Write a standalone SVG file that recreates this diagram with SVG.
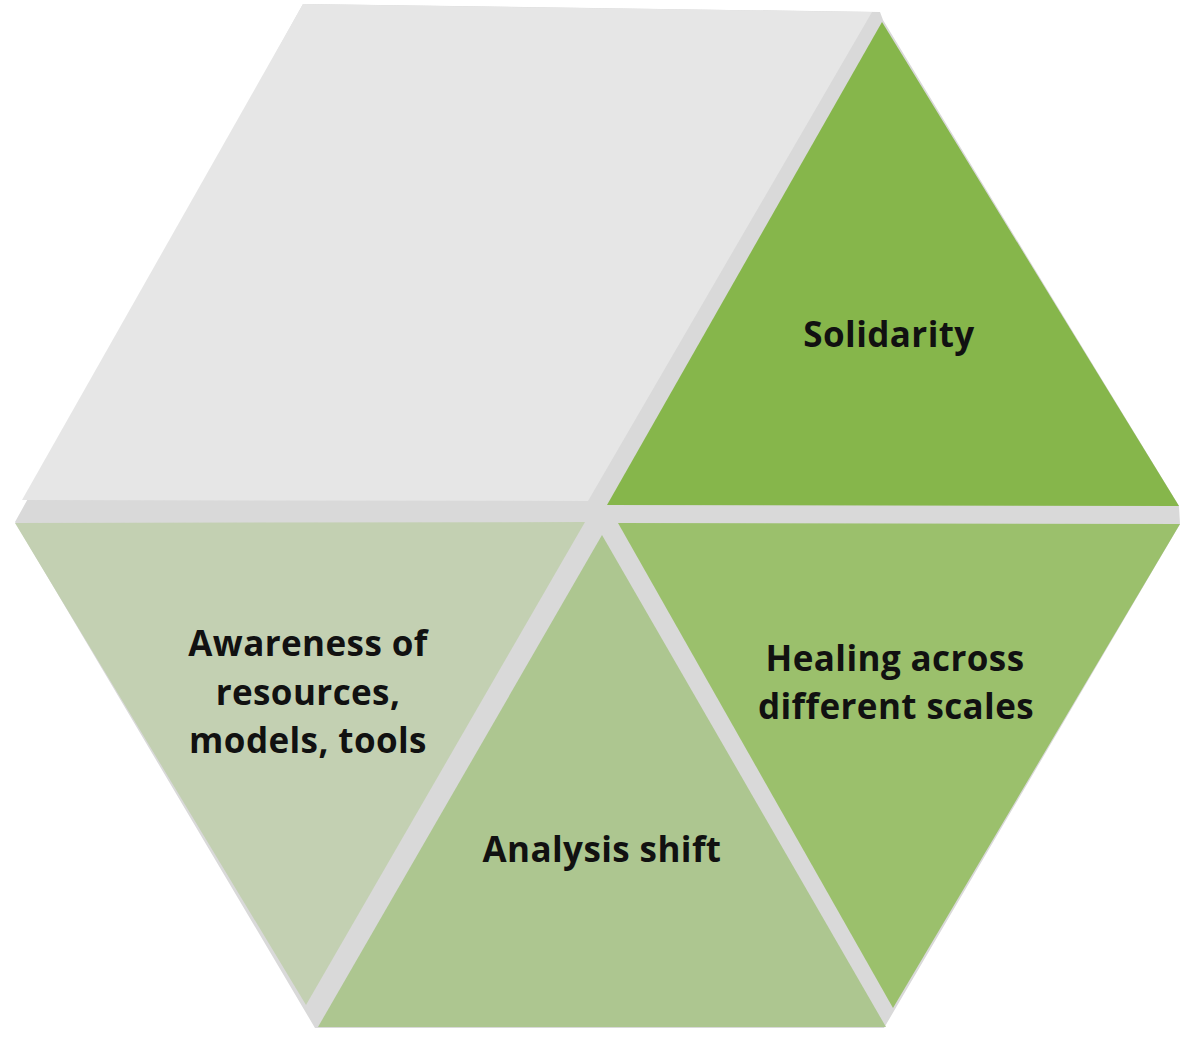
<svg xmlns="http://www.w3.org/2000/svg" width="1180" height="1037" viewBox="0 0 1180 1037">
<style>
.lbl{font-family:"Open Sans","Liberation Sans",sans-serif;font-weight:700;font-size:35px;letter-spacing:0.4px;fill:#111;text-anchor:middle}
</style>
<rect width="1180" height="1037" fill="#ffffff"/>
<g id="frame">
<polygon points="303,4 880,12 883,20 1179,506 1180,524 884,1028 315,1028 15,522" fill="#d9d9d9"/>
</g>
<g id="blank">
<polygon points="303,4 872,12 588,501 22,500" fill="#e6e6e6"/>
</g>
<g id="solidarity">
<polygon points="882,22 1179,506 607,505" fill="#86b64b"/>
<text class="lbl" x="889" y="347">Solidarity</text>
</g>
<g id="healing">
<polygon points="618,523 1180,524 893,1008" fill="#9bc06c"/>
<text class="lbl" x="895" y="671">Healing across</text>
<text class="lbl" x="896" y="719">different scales</text>
</g>
<g id="analysis">
<polygon points="602,535 886,1027 318,1027" fill="#adc690"/>
<text class="lbl" x="602" y="862">Analysis shift</text>
</g>
<g id="awareness">
<polygon points="15,523 585,522 306,1005" fill="#c3d0b2"/>
<text class="lbl" x="308" y="656">Awareness of</text>
<text class="lbl" x="308" y="705">resources,</text>
<text class="lbl" x="308" y="753">models, tools</text>
</g>
<g id="connectors"/>
</svg>
